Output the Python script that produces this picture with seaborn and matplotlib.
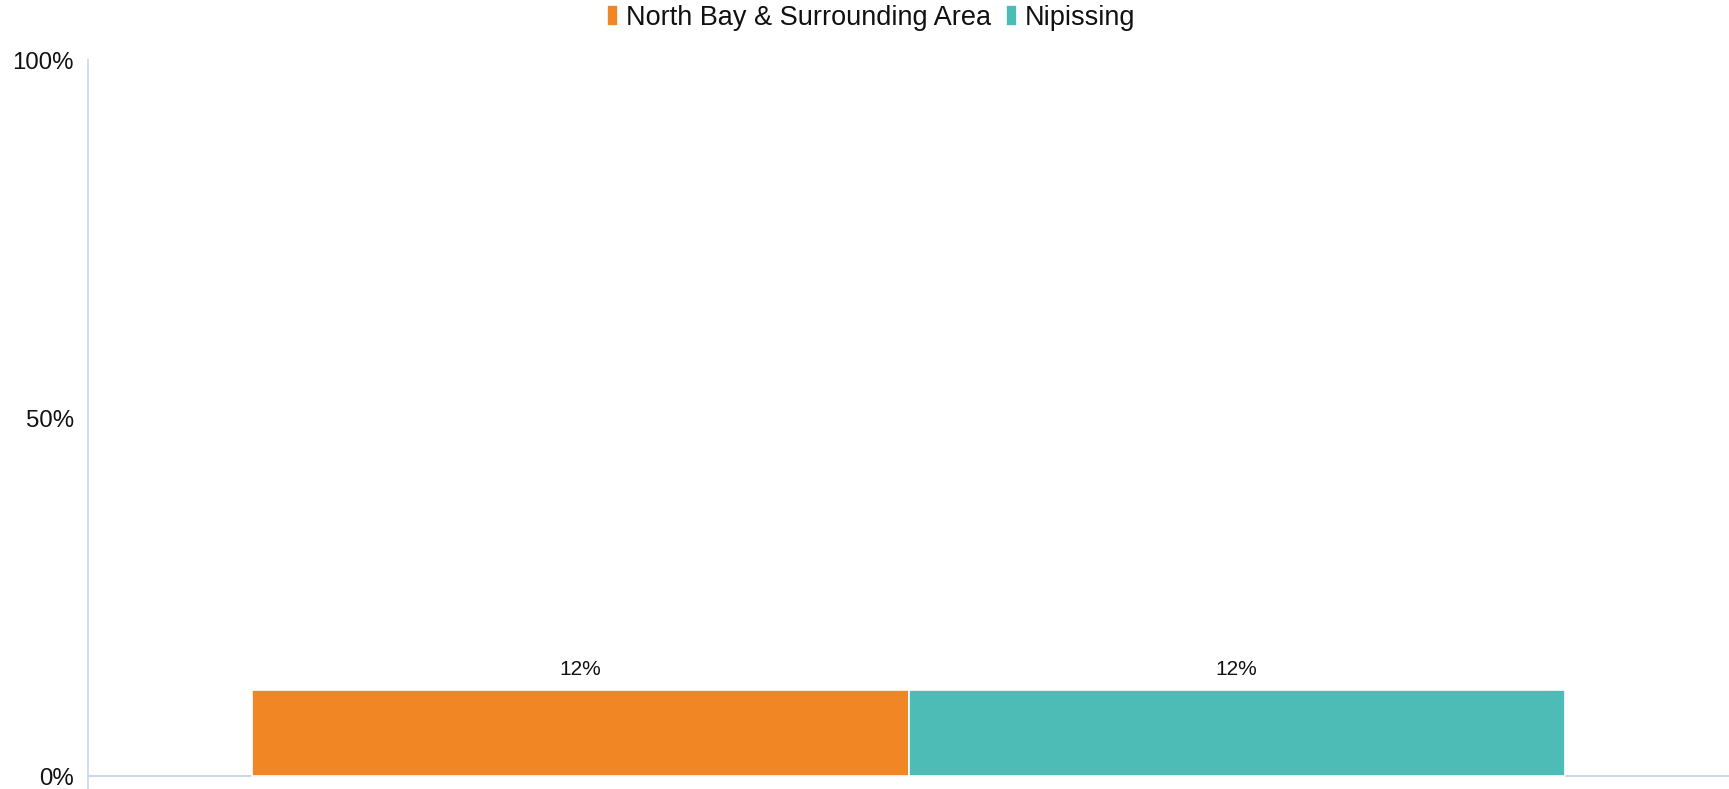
import matplotlib
matplotlib.use("Agg")
import matplotlib.pyplot as plt
import seaborn as sns
import pandas as pd

categories = ["Population"]
series = ["North Bay & Surrounding Area", "Nipissing"]
values = [12, 12]
colors = ["#F08624", "#4DBBB6"]
yticks = [0, 50, 100]
ytick_labels = ["0%", "50%", "100%"]

df = pd.DataFrame({"cat": categories * len(series), "series": series, "value": values})

sns.set_theme(style="white")
plt.rcParams["font.family"] = ["Liberation Sans", "DejaVu Sans"]

fig = plt.figure(figsize=(17.29, 7.89), dpi=100)
ax = fig.add_axes([88 / 1729, 0, 1 - 88 / 1729, (789 - 60) / 789])

sns.barplot(data=df, x="cat", y="value", hue="series", palette=colors,
            hue_order=series, ax=ax, width=0.8, edgecolor="white", linewidth=1.2,
            saturation=1)

ax.set_xlim(-0.5, 0.5)
ax.set_ylim(-1.8, 100)
ax.set_yticks(yticks)
ax.set_yticklabels(ytick_labels, fontsize=17.3, color="#111111")
ax.tick_params(axis="y", length=0, pad=10)
ax.set_xticks([])
ax.set_xlabel("")
ax.set_ylabel("")
for s in ["top", "right", "bottom"]:
    ax.spines[s].set_visible(False)
ax.spines["left"].set_color("#ccd6eb")
ax.spines["left"].set_linewidth(1.2)
ax.axhline(0, color="#ccd6eb", linewidth=1.5, zorder=0)

for c in ax.containers:
    ax.bar_label(c, labels=[f"{v:.0f}%" for v in c.datavalues], padding=8,
                 fontsize=15, color="#111111")

handles, labels = ax.get_legend_handles_labels()
if ax.legend_:
    ax.legend_.remove()
leg = fig.legend(handles, labels, loc="center", bbox_to_anchor=(871 / 1729, 1 - 18 / 789), ncol=2,
                 frameon=False, fontsize=19.5, handlelength=0.4, handleheight=0.8,
                 handletextpad=0.3, columnspacing=0.55)
for t in leg.get_texts():
    t.set_color("#111111")

fig.savefig("out.png", dpi=100)
